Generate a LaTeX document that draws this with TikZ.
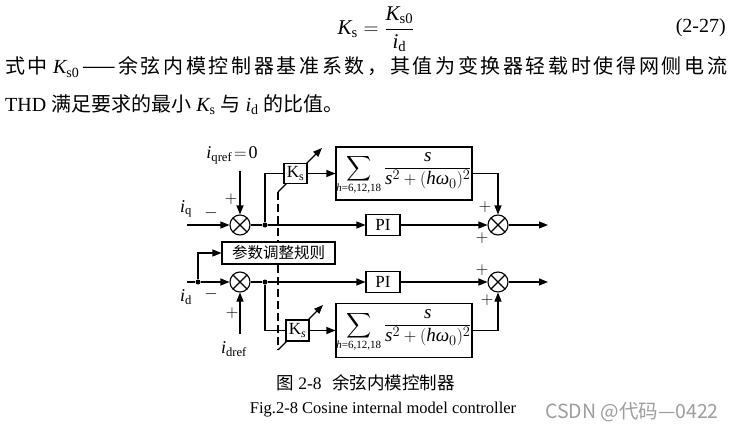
\documentclass[tikz,border=0pt]{standalone}
\usepackage{fontspec}
\usepackage{graphicx}
\setmainfont{Liberation Serif}
\newfontfamily\cjk{Noto Sans CJK SC}
\usetikzlibrary{arrows.meta}

\tikzset{
  wire/.style={line width=1.1pt},
  arr/.style={wire,-{Triangle[length=9pt,width=7pt]}},
  sumj/.style={circle,draw,line width=1.1pt,minimum size=20pt,inner sep=0pt,fill=white,
    path picture={\draw[line width=1.1pt]
      (path picture bounding box.north west)--(path picture bounding box.south east)
      (path picture bounding box.north east)--(path picture bounding box.south west);}},
  blk/.style={draw,line width=1.1pt,fill=white,rectangle,inner sep=0pt},
  jdot/.style={circle,fill,minimum size=5pt,inner sep=0pt},
  lab/.style={inner sep=0pt,font=\fontsize{18}{18}\selectfont},
  sgn/.style={inner sep=0pt,font=\fontsize{16}{16}\selectfont},
  body/.style={inner sep=0pt,font=\fontsize{20}{20}\selectfont},
}

% resonant term of the cosine internal model
\newcommand{\resfrac}{$\displaystyle
  \mathop{\vcenter{\hbox{\scalebox{1.75}{$\displaystyle\sum$}}}}\limits_{\hbox{\fontsize{11}{11}\selectfont\textit{h}=6,12,18}}
  \frac{\mathit{s}}{\mathit{s}^{2}+(\mathit{h}\hbox{\itshape ω}_{0})^{2}}$}

\begin{document}
\begin{tikzpicture}[x=1pt,y=-1pt]
\fill[white] (0,0) rectangle (737,436);
\useasboundingbox (0,0) rectangle (737,436);

% ---------- text above the figure ----------
\node[body,font=\fontsize{21}{21}\selectfont] (eq) at (376,29)
  {$\displaystyle \mathit{K}_{\mathrm{s}}=\frac{\mathit{K}_{\mathrm{s0}}}{\mathit{i}_{\mathrm{d}}}$};
\node[body,anchor=base east] (eqno) at (726,33) {(2-27)};
\node[body,anchor=base west] (line1) at (5,74) {\makebox[722pt][s]{\cjk 式\hfil 中\hfil\hfil
  {\rmfamily$\mathit{K}_{\mathrm{s0}}$}\hfil ——\hfil 余\hfil 弦\hfil 内\hfil 模\hfil 控\hfil 制\hfil 器\hfil
  基\hfil 准\hfil 系\hfil 数\hfil ，\hfil 其\hfil 值\hfil 为\hfil 变\hfil 换\hfil 器\hfil 轻\hfil
  载\hfil 时\hfil 使\hfil 得\hfil 网\hfil 侧\hfil 电\hfil 流}};
\node[body,anchor=base west] (line2) at (5,111) {THD {\cjk 满足要求的最小} $\mathit{K}_{\mathrm{s}}$
  {\cjk 与} $\mathit{i}_{\mathrm{d}}$ {\cjk 的比值。}};

% ---------- fixed points ----------
\coordinate (qin) at (187,225);
\coordinate (din) at (187,282);
\coordinate (qref) at (240,171);
\coordinate (dref) at (240,334);
\coordinate (qout) at (548,225);
\coordinate (dout) at (548,282);
\coordinate (g1a) at (278,192);
\coordinate (g1b) at (322,148);
\coordinate (g2a) at (278,350);
\coordinate (g2b) at (323,305);

% variable-gain arrows (drawn first, the gain boxes cover them)
\draw[arr] (g1a) -- (g1b);
\draw[arr] (g2a) -- (g2b);

% ---------- blocks ----------
\node[sumj] (sq) at (240,225) {};
\node[sumj] (sd) at (240,282) {};
\node[sumj] (so1) at (498,225) {};
\node[sumj] (so2) at (498,282) {};
\node[jdot] (j1) at (265,225) {};
\node[jdot] (j2) at (265,282) {};
\node[jdot] (j0) at (198,282) {};

\node[blk,minimum width=23pt,minimum height=20pt,font=\fontsize{17}{17}\selectfont]
  (ks1) at (295.5,173.5) {$\mathrm{K}_{\mathrm{s}}$};
\node[blk,minimum width=23pt,minimum height=21pt,font=\fontsize{17}{17}\selectfont]
  (ks2) at (297.5,330.5) {$\mathrm{K}_{\mathit{s}}$};
\node[blk,minimum width=34pt,minimum height=21pt,font=\fontsize{17}{17}\selectfont]
  (pi1) at (383,225) {PI};
\node[blk,minimum width=34pt,minimum height=21pt,font=\fontsize{17}{17}\selectfont]
  (pi2) at (383,282) {PI};
\node[blk,minimum width=136pt,minimum height=53pt,font=\fontsize{19}{19}\selectfont]
  (sb1) at (404,173.5) {\resfrac};
\node[blk,minimum width=136pt,minimum height=54pt,font=\fontsize{19}{19}\selectfont]
  (sb2) at (404,330.5) {\resfrac};
\node[blk,minimum width=113pt,minimum height=22pt,font=\cjk\fontsize{15.5}{15.5}\selectfont]
  (rb) at (278.5,253) {参数调整规则};

% dashed links from the rule block to the gains
\draw[wire,dash pattern=on 8pt off 4pt] (g1a) -- (g1a |- rb.north);
\draw[wire,dash pattern=on 8pt off 4pt] (g2a |- rb.south) -- (g2a);

% ---------- q-axis loop ----------
\draw[arr] (qin) -- (sq.west);
\draw[arr] (qref) -- (sq.north);
\draw[wire] (sq.east) -- (j1);
\draw[arr] (j1) -- (pi1.west);
\draw[wire] (j1) |- (ks1.west);
\draw[arr] (ks1.east) -- (sb1.west);
\draw[arr] (sb1.east) -| (so1.north);
\draw[arr] (pi1.east) -- (so1.west);
\draw[arr] (so1.east) -- (qout);

% ---------- d-axis loop ----------
\draw[wire] (din) -- (j0);
\draw[arr] (j0) -- (sd.west);
\draw[arr] (j0) |- (rb.west);
\draw[arr] (dref) -- (sd.south);
\draw[wire] (sd.east) -- (j2);
\draw[arr] (j2) -- (pi2.west);
\draw[wire] (j2) |- (ks2.west);
\draw[arr] (ks2.east) -- (sb2.west);
\draw[arr] (sb2.east) -| (so2.south);
\draw[arr] (pi2.east) -- (so2.west);
\draw[arr] (so2.east) -- (dout);

% ---------- signal labels ----------
\node[lab] (liqref) at (232,155) {$\mathit{i}_{\mathrm{qref}}\!=\!\mathrm{0}$};
\node[lab] (liq) at (186,209) {$\mathit{i}_{\mathrm{q}}$};
\node[sgn] (mq) at (211,213) {$-$};
\node[sgn] (pq) at (231,199) {$+$};
\node[lab] (lid) at (186,297) {$\mathit{i}_{\mathrm{d}}$};
\node[sgn] (md) at (211,294) {$-$};
\node[sgn] (pd) at (232,313) {$+$};
\node[lab] (lidref) at (234,349) {$\mathit{i}_{\mathrm{dref}}$};
\node[sgn] (p1a) at (485,207) {$+$};
\node[sgn] (p1b) at (482,238) {$+$};
\node[sgn] (p2a) at (482,270) {$+$};
\node[sgn] (p2b) at (487,300) {$+$};

% ---------- captions ----------
\node[inner sep=0pt,font=\fontsize{17.5}{17.5}\selectfont] (cap1) at (365.5,383)
  {{\cjk 图} 2-8\hspace{0.6em}{\cjk 余弦内模控制器}};
\node[inner sep=0pt,font=\fontsize{16.5}{16.5}\selectfont] (cap2) at (383,410)
  {Fig.2-8 Cosine internal model controller};
\node[inner sep=0pt,text=black!38,font=\cjk\fontsize{19.5}{19.5}\selectfont] (mark) at (632,412)
  {CSDN @代码—0422};
\end{tikzpicture}
\end{document}
